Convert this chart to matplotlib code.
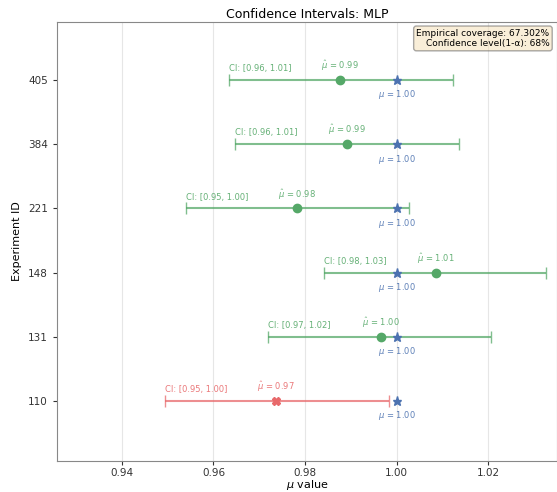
import matplotlib
matplotlib.use("Agg")
import matplotlib.pyplot as plt
import numpy as np

exp_ids = ["110", "131", "148", "221", "384", "405"]
mu_hat = [0.9737, 0.9965, 1.0085, 0.9783, 0.9892, 0.9877]
ci_low = [0.9494, 0.9719, 0.9842, 0.9540, 0.9647, 0.9634]
ci_high = [0.9983, 1.0207, 1.0327, 1.0026, 1.0135, 1.0122]
true_mu = [1.00, 1.00, 1.00, 1.00, 1.00, 1.00]
covered = [False, True, True, True, True, True]
coverage_text = "Empirical coverage: 67.302%\nConfidence level(1-α): 68%"

green = "#55a868"
red = "#e8696b"
blue = "#4c72b0"

fig = plt.figure(figsize=(5.57, 4.92), dpi=100)
ax = fig.add_axes([0.102, 0.063, 0.898, 0.892])

for i, eid in enumerate(exp_ids):
    c = green if covered[i] else red
    mk = "o" if covered[i] else "X"
    ax.errorbar(mu_hat[i], i, xerr=[[mu_hat[i] - ci_low[i]], [ci_high[i] - mu_hat[i]]],
                fmt="none", ecolor=c, elinewidth=1.5, capsize=4, alpha=0.75, zorder=2)
    ax.plot(mu_hat[i], i, marker=mk, color=c, markersize=6, zorder=3, linestyle="none")
    ax.plot(true_mu[i], i, marker="*", color=blue, markersize=6.5, zorder=4, linestyle="none")
    ax.annotate(f"CI: [{ci_low[i]:.2f}, {ci_high[i]:.2f}]", (ci_low[i], i),
                xytext=(0, 5), textcoords="offset points", ha="left", va="bottom",
                fontsize=6, color=c, alpha=0.9)
    ax.annotate(rf"$\hat{{\mu}}$ = {mu_hat[i]:.2f}", (mu_hat[i], i),
                xytext=(0, 5), textcoords="offset points", ha="center", va="bottom",
                fontsize=6, color=c, alpha=0.9)
    ax.annotate(rf"$\mu$ = {true_mu[i]:.2f}", (true_mu[i], i),
                xytext=(0, -6), textcoords="offset points", ha="center", va="top",
                fontsize=6, color=blue, alpha=0.9)

ax.set_yticks(range(len(exp_ids)))
ax.set_yticklabels(exp_ids, fontsize=7.5)
ax.set_ylim(-0.935, 5.903)
ax.set_xlim(0.9258, 1.035)
ax.set_xticks([0.94, 0.96, 0.98, 1.00, 1.02])
ax.set_xticklabels(["0.94", "0.96", "0.98", "1.00", "1.02"], fontsize=7.5)
ax.xaxis.grid(True, color="#e6e6e6", linewidth=0.8)
ax.set_axisbelow(True)
ax.set_xlabel(r"$\mu$ value", fontsize=8, labelpad=0)
ax.set_ylabel("Experiment ID", fontsize=8)
ax.set_title("Confidence Intervals: MLP", fontsize=9, pad=3)
for s in ax.spines.values():
    s.set_color("#888888")
ax.tick_params(colors="#333333", length=3)
ax.tick_params(axis="x", pad=2)

ax.text(0.985, 0.985, coverage_text, transform=ax.transAxes, ha="right", va="top",
        fontsize=6.5, multialignment="right",
        bbox=dict(boxstyle="round,pad=0.3", facecolor="wheat", alpha=0.5, edgecolor="#555555"))

fig.savefig("out.png", dpi=100)
